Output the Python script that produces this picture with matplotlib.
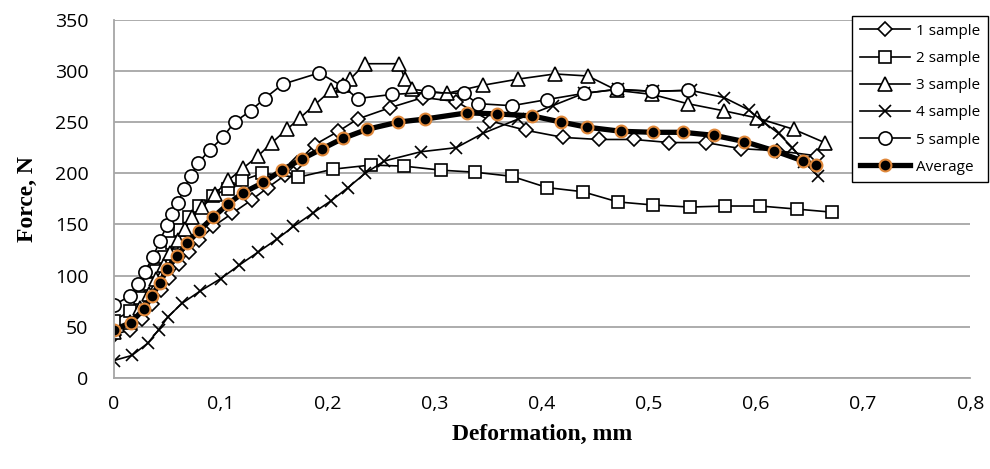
import matplotlib
matplotlib.use("Agg")
import matplotlib.pyplot as plt

# Sample 1 (diamonds)
x1 = [0, 0.015, 0.027, 0.036, 0.044, 0.052, 0.061, 0.07, 0.08, 0.093, 0.111, 0.129, 0.144,
      0.16, 0.171, 0.188, 0.21, 0.228, 0.258, 0.289, 0.32, 0.352, 0.385, 0.42, 0.453, 0.486,
      0.519, 0.553, 0.586, 0.62, 0.657]
y1 = [42, 47, 58, 72, 86, 98, 111, 123, 135, 148, 161, 174, 186,
      198, 210, 228, 241, 253, 264, 274, 270, 251, 242, 235, 233, 233,
      230, 230, 224, 222, 217]

# Sample 2 (squares)
x2 = [0, 0.015, 0.025, 0.033, 0.04, 0.047, 0.055, 0.062, 0.07, 0.08, 0.093, 0.107, 0.12,
      0.139, 0.172, 0.205, 0.24, 0.271, 0.306, 0.338, 0.372, 0.405, 0.438, 0.471, 0.504,
      0.538, 0.571, 0.604, 0.638, 0.671]
y2 = [56, 65, 78, 92, 105, 118, 132, 145, 157, 168, 178, 185, 193,
      200, 196, 204, 208, 207, 203, 201, 197, 186, 182, 172, 169,
      167, 168, 168, 165, 162]

# Sample 3 (triangles)
x3 = [0, 0.015, 0.025, 0.033, 0.04, 0.047, 0.053, 0.06, 0.067, 0.073, 0.083, 0.095, 0.107,
      0.121, 0.135, 0.148, 0.162, 0.174, 0.188, 0.203, 0.214, 0.221, 0.235, 0.267, 0.272,
      0.279, 0.311, 0.345, 0.378, 0.412, 0.443, 0.47, 0.503, 0.536, 0.57, 0.601, 0.635, 0.664]
y3 = [45, 55, 68, 82, 97, 110, 122, 135, 146, 157, 167, 180, 193,
      205, 217, 230, 243, 254, 267, 281, 286, 292, 307, 307, 292,
      282, 278, 286, 292, 297, 295, 281, 277, 268, 261, 254, 243, 230]

# Sample 4 (crosses)
x4 = [0, 0.017, 0.032, 0.042, 0.051, 0.064, 0.081, 0.1, 0.117, 0.135, 0.153, 0.168, 0.186,
      0.203, 0.219, 0.235, 0.253, 0.287, 0.32, 0.345, 0.378, 0.41, 0.439, 0.471, 0.504,
      0.539, 0.57, 0.593, 0.607, 0.621, 0.634, 0.645, 0.658]
y4 = [17, 22, 34, 47, 60, 73, 85, 97, 110, 123, 136, 148, 161,
      173, 186, 200, 212, 221, 225, 239, 253, 266, 278, 282, 280,
      281, 274, 262, 250, 239, 225, 211, 197]

# Sample 5 (circles)
x5 = [0, 0.015, 0.023, 0.029, 0.037, 0.043, 0.05, 0.055, 0.06, 0.066, 0.072, 0.079, 0.09,
      0.102, 0.113, 0.128, 0.141, 0.158, 0.192, 0.214, 0.228, 0.26, 0.294, 0.327, 0.34,
      0.372, 0.405, 0.439, 0.47, 0.503, 0.536]
y5 = [71, 80, 92, 104, 118, 134, 149, 160, 171, 185, 197, 210, 223,
      235, 250, 261, 273, 287, 298, 285, 273, 277, 279, 278, 268,
      266, 272, 278, 282, 280, 281]

# Average
xa = [0, 0.016, 0.028, 0.036, 0.043, 0.05, 0.059, 0.069, 0.08, 0.093, 0.107, 0.121, 0.14,
      0.157, 0.176, 0.195, 0.214, 0.237, 0.266, 0.291, 0.33, 0.358, 0.391, 0.418, 0.442,
      0.474, 0.504, 0.532, 0.561, 0.589, 0.617, 0.644, 0.656]
ya = [47, 54, 67, 80, 93, 106, 119, 132, 144, 157, 170, 181, 191,
      203, 214, 224, 234, 243, 250, 253, 259, 258, 256, 250, 245,
      241, 240, 240, 237, 231, 222, 212, 208]

fig = plt.figure(figsize=(9.9, 4.69), dpi=100)
ax = fig.add_axes([0.1147, 0.194, 0.8653, 0.764])

common = dict(color="black", linewidth=1.2, markerfacecolor="white",
              markeredgecolor="black", markeredgewidth=1.2)
ax.plot(x1, y1, marker="D", markersize=7.5, label="1 sample", **common)
ax.plot(x2, y2, marker="s", markersize=8.5, label="2 sample", **common)
ax.plot(x3, y3, marker="^", markersize=9.5, label="3 sample", **common)
ax.plot(x4, y4, marker="x", markersize=9, label="4 sample", **common)
ax.plot(x5, y5, marker="o", markersize=9.5, label="5 sample", **common)
ax.plot(xa, ya, color="black", linewidth=3.8, marker="o", markersize=8.5,
        markerfacecolor="black", markeredgecolor="#E0883A", markeredgewidth=1.5,
        label="Average")

ax.set_xlim(0, 0.8)
ax.set_ylim(0, 350)
ax.set_xticks([i / 10 for i in range(9)])
ax.set_xticklabels(["0"] + ["0,%d" % i for i in range(1, 9)])
ax.set_yticks(range(0, 351, 50))
ax.yaxis.grid(True, color="#a6a6a6", linewidth=1.3)
ax.set_axisbelow(True)
for s in ["top", "right"]:
    ax.spines[s].set_visible(False)
for s in ["left", "bottom"]:
    ax.spines[s].set_color("#a6a6a6")
    ax.spines[s].set_linewidth(1.3)
ax.tick_params(axis="x", length=0, labelsize=14, pad=12)
ax.tick_params(axis="y", length=0, labelsize=14, pad=18)
for lab in ax.get_xticklabels() + ax.get_yticklabels():
    lab.set_family("Open Sans")

ax.set_xlabel("Deformation, mm", family="Liberation Serif", fontweight="bold",
              fontsize=17, labelpad=8)
ax.set_ylabel("Force, N", family="Liberation Serif", fontweight="bold",
              fontsize=17, labelpad=12)

leg = fig.legend(loc="upper right", bbox_to_anchor=(0.998, 1 - 16 / 469),
                 frameon=True, fancybox=False, edgecolor="black", framealpha=1,
                 prop={"family": "Open Sans", "size": 11}, handlelength=3.3,
                 borderaxespad=0, labelspacing=0.8, handletextpad=0.4, borderpad=0.5)
leg.get_frame().set_linewidth(1.0)

fig.savefig("out.png", dpi=100)
